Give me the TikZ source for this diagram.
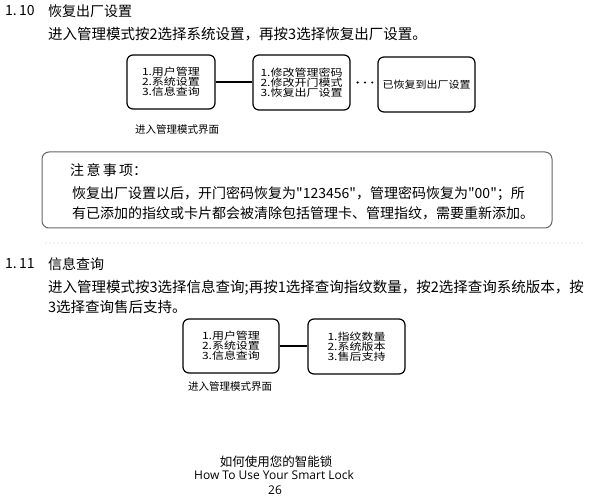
\documentclass[tikz,border=0pt]{standalone}
\usepackage{fontspec}
\setmainfont{Noto Sans CJK SC}
\newfontfamily\boxfont[FakeStretch=1.2]{Noto Sans CJK SC}
\newfontfamily\boxfontb[FakeStretch=1.1]{Noto Sans CJK SC}
\newfontfamily\notefont[FakeStretch=1.0]{Noto Sans CJK SC}
\newfontfamily\enfont{Open Sans}
\tikzset{
  menubox/.style={draw=black, line width=1.2pt, rounded corners=6pt, minimum width=#1, minimum height=54pt, inner sep=0pt, align=center, font=\boxfont\fontsize{10}{10}\selectfont},
  link/.style={draw=black, line width=1.1pt},
  dotlink/.style={draw=black, line width=2.3pt, line cap=round, dash pattern=on 0pt off 7.3pt},
  txt/.style={anchor=west, inner sep=0pt, font=\fontsize{14.5}{14.5}\selectfont},
  head/.style={anchor=west, inner sep=0pt, font=\fontsize{14}{14}\selectfont},
  captxt/.style={anchor=west, inner sep=0pt, font=\fontsize{10.5}{10.5}\selectfont},
  notetxt/.style={anchor=west, inner sep=0pt, font=\notefont\fontsize{14}{14}\selectfont},
}
\begin{document}
\begin{tikzpicture}[x=1pt, y=-1pt]
\useasboundingbox[fill=white] (0,0) rectangle (600,497);

% Section 1.10
\node[head] (n110) at (5,11) {1.\,10};
\node[head] (h110) at (48,11) {恢复出厂设置};
\node[txt] (p110) at (48,34) {进入管理模式按2选择系统设置，再按3选择恢复出厂设置。};

\node[menubox=88pt] (b1) at (171,82) {1.用户管理\\2.系统设置\\3.信息查询};
\node[menubox=97pt, minimum height=55pt] (b2) at (301.5,82.5) {1.修改管理密码\\2.修改开门模式\\3.恢复出厂设置};
\node[menubox=97pt, minimum height=55pt, font=\boxfontb\fontsize{10}{10}\selectfont] (b3) at (426.5,84.5) {已恢复到出厂设置};
\draw[link] (b1.east) -- (b2.west |- b1.east);
\draw[dotlink] ([xshift=7pt]b2.east) -- ([xshift=-1pt]b2.east -| b3.west);
\node[captxt] (c1) at (135,130) {进入管理模式界面};

% Note box
\node[draw=black!60, line width=1pt, rounded corners=7pt, minimum width=510pt, minimum height=76pt, inner sep=0pt] (note) at (297,190) {};
\node[notetxt] (nt1) at (70,170) {注\,意\,事\,项：};
\node[notetxt] (nt2) at (72,194) {恢复出厂设置以后，开门密码恢复为"123456"，管理密码恢复为"00"；所};
\node[notetxt] (nt3) at (72,213) {有已添加的指纹或卡片都会被清除包括管理卡、管理指纹，需要重新添加。};

% separator
\coordinate (s1) at (46,243);
\coordinate (s2) at (582,243);
\draw[black!55, line width=0.9pt, line cap=round, dash pattern=on 0pt off 4pt] (s1) -- (s2);

% Section 1.11
\node[head] (n111) at (5,264) {1.\,11};
\node[head] (h111) at (48,264) {信息查询};
\node[txt] (p111a) at (48,288) {进入管理模式按3选择信息查询;再按1选择查询指纹数量，按2选择查询系统版本，按};
\node[txt] (p111b) at (48,307) {3选择查询售后支持。};

\node[menubox=96pt] (b4) at (231,346) {1.用户管理\\2.系统设置\\3.信息查询};
\node[menubox=97pt, minimum height=55pt] (b5) at (356.5,346.5) {1.指纹数量\\2.系统版本\\3.售后支持};
\draw[link] (b4.east) -- (b5.west |- b4.east);
\node[captxt] (c2) at (188,387) {进入管理模式界面};

% footer
\node[inner sep=0pt, font=\fontsize{12.5}{12.5}\selectfont] (f1) at (276,462) {如何使用您的智能锁};
\node[inner sep=0pt, font=\enfont\fontsize{12}{12}\selectfont] (f2) at (274,475) {How To Use Your Smart Lock};
\node[inner sep=0pt, font=\enfont\fontsize{12}{12}\selectfont] (f3) at (275,490) {26};
\end{tikzpicture}
\end{document}
